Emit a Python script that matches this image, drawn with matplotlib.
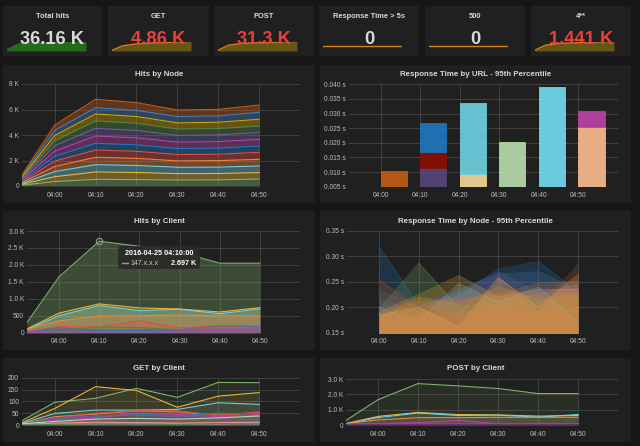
import numpy as np
import matplotlib.pyplot as plt
from matplotlib.patches import Rectangle, FancyBboxPatch

plt.rcParams['font.family'] = ['Liberation Sans', 'DejaVu Sans']

W, H = 640, 446
BG = '#161616'
PANEL = '#202020'
TXT = '#d8d9da'
TICK = '#bdbdbd'
GRID = '#464646'

#---------------- data ----------------#
vecTimes = ["03:52", "04:00", "04:10", "04:20", "04:30", "04:40", "04:50"]
vecTickTimes = ["04:00", "04:10", "04:20", "04:30", "04:40", "04:50"]

# stat row
vecStatTitles = ["Total hits", "GET", "POST", "Response Time > 5s", "500", "4**"]
vecStatValues = ["36.16 K", "4.86 K", "31.3 K", "0", "0", "1.441 K"]
vecStatColors = ["#d8d9da", "#e8403a", "#e8403a", "#d8d9da", "#d8d9da", "#e8403a"]
vecSparkFill = ["#256b1d", "#665518", "#665518", None, None, "#665518"]
vecSparkLine = ["#2a7420", "#d47f1a", "#d47f1a", "#d47f1a", "#d47f1a", "#d47f1a"]
vecSpark = [
    [0.86, 4.78, 6.80, 6.54, 5.96, 6.01, 6.35],
    [0.08, 0.55, 0.75, 0.83, 0.88, 0.95, 1.00],
    [0.08, 0.62, 0.80, 0.85, 0.90, 0.95, 1.00],
    [0, 0, 0, 0, 0, 0, 0],
    [0, 0, 0, 0, 0, 0, 0],
    [0.10, 0.62, 0.80, 0.85, 0.90, 0.95, 1.00],
]

# Hits by Node (stacked), bottom layer first
vecNodeColors = ["#7EB26D", "#EAB839", "#6ED0E0", "#EF843C", "#E24D42", "#1F78C1",
                 "#BA43A9", "#705DA0", "#508642", "#CCA300", "#447EBC", "#C15C17"]
vecNodeHits = np.array([
    [60, 350, 520, 500, 470, 480, 550],
    [70, 380, 580, 560, 500, 500, 500],
    [70, 400, 570, 550, 500, 500, 520],
    [70, 400, 580, 560, 500, 510, 520],
    [70, 420, 570, 550, 500, 500, 550],
    [70, 380, 530, 510, 470, 480, 500],
    [80, 400, 570, 550, 500, 510, 520],
    [70, 430, 600, 580, 530, 530, 540],
    [70, 400, 580, 560, 500, 500, 500],
    [80, 400, 550, 530, 480, 490, 530],
    [70, 400, 490, 480, 500, 500, 550],
    [80, 420, 660, 610, 510, 510, 570],
])

# Response Time by URL (stacked bars)
vecUrlTimes = ["04:00", "04:10", "04:20", "04:30", "04:40", "04:50"]
vecUrlColors = ["#C15C17", "#584477", "#890F02", "#1F78C1", "#F4D598", "#6ED0E0",
                "#B7DBAB", "#70DBED", "#F9BA8F", "#BA43A9"]
vecUrlValues = [
    [0.0103, 0, 0, 0, 0, 0],
    [0, 0.0113, 0, 0, 0, 0],
    [0, 0.0056, 0, 0, 0, 0],
    [0, 0.0100, 0, 0, 0, 0],
    [0, 0, 0.0093, 0, 0, 0],
    [0, 0, 0.0243, 0, 0, 0],
    [0, 0, 0, 0.0204, 0, 0],
    [0, 0, 0, 0, 0.0390, 0],
    [0, 0, 0, 0, 0, 0.0253],
    [0, 0, 0, 0, 0, 0.0055],
]

# Hits by Client
vecClientColors = ["#7EB26D", "#EAB839", "#6ED0E0", "#EF843C", "#E24D42", "#705DA0",
                   "#1F78C1", "#508642", "#BA43A9"]
vecClientHits = [
    [300, 1650, 2697, 2550, 2380, 2050, 2050],
    [110, 580, 850, 730, 700, 610, 740],
    [90, 500, 800, 650, 690, 560, 700],
    [100, 350, 490, 500, 520, 500, 500],
    [30, 180, 170, 350, 140, 200, 190],
    [20, 150, 50, 90, 90, 200, 180],
    [10, 100, 80, 60, 70, 100, 100],
    [10, 60, 170, 150, 90, 110, 80],
    [5, 40, 30, 40, 50, 60, 50],
]
strTipIp = "147.x.x.x"

# Response Time by Node - 95th
vecRtTimes = ["04:00", "04:10", "04:20", "04:30", "04:40", "04:50"]
vecRtColors = ["#1F78C1", "#447EBC", "#7EB26D", "#705DA0", "#6ED0E0", "#BA43A9",
               "#C15C17", "#EAB839", "#E0752D", "#F9BA8F", "#CCA300", "#EF843C"]
vecRtValues = [
    [0.320, 0.205, 0.225, 0.275, 0.290, 0.230],
    [0.215, 0.195, 0.235, 0.265, 0.270, 0.235],
    [0.195, 0.287, 0.200, 0.215, 0.225, 0.245],
    [0.232, 0.205, 0.230, 0.270, 0.230, 0.230],
    [0.200, 0.172, 0.247, 0.210, 0.240, 0.170],
    [0.185, 0.215, 0.220, 0.230, 0.232, 0.240],
    [0.255, 0.200, 0.175, 0.260, 0.195, 0.285],
    [0.190, 0.225, 0.262, 0.220, 0.235, 0.235],
    [0.188, 0.210, 0.215, 0.225, 0.248, 0.250],
    [0.185, 0.200, 0.160, 0.258, 0.200, 0.265],
    [0.180, 0.220, 0.205, 0.240, 0.215, 0.225],
    [0.175, 0.185, 0.190, 0.200, 0.190, 0.200],
]

# GET by Client
vecGetColors = ["#7EB26D", "#EAB839", "#6ED0E0", "#EF843C", "#E24D42", "#1F78C1",
                "#BA43A9", "#705DA0", "#B7DBAB", "#F29191", "#AEA2E0", "#508642"]
vecGet = [
    [18, 96, 113, 155, 117, 180, 179],
    [10, 70, 162, 146, 75, 122, 137],
    [7, 49, 63, 63, 66, 94, 87],
    [4, 35, 46, 59, 56, 42, 52],
    [2, 28, 50, 60, 60, 40, 55],
    [3, 25, 35, 45, 40, 50, 48],
    [1, 22, 30, 50, 45, 35, 45],
    [2, 30, 38, 42, 35, 40, 40],
    [5, 15, 25, 28, 25, 30, 38],
    [1, 8, 12, 10, 8, 10, 12],
    [1, 5, 6, 8, 6, 5, 8],
    [0, 3, 5, 4, 3, 6, 5],
]

# POST by Client
vecPostColors = ["#7EB26D", "#EAB839", "#6ED0E0", "#EF843C", "#BA43A9", "#705DA0",
                 "#1F78C1", "#6D1F62"]
vecPost = [
    [300, 1650, 2700, 2550, 2380, 2050, 2050],
    [100, 560, 820, 680, 660, 580, 620],
    [80, 480, 780, 620, 640, 520, 680],
    [90, 330, 480, 480, 500, 500, 500],
    [20, 100, 150, 300, 80, 80, 80],
    [10, 50, 50, 60, 60, 80, 80],
    [50, 100, 100, 60, 80, 100, 100],
    [5, 10, 10, 10, 10, 10, 10],
]


#---------------- helpers ----------------#
def fnMin(strT):
    h, m = strT.split(":")
    return int(h) * 60 + int(m) - 240

def fnRect(x0, y0, x1, y1):
    return [x0 / W, 1 - y1 / H, (x1 - x0) / W, (y1 - y0) / H]

def fnTimeAxes(fig, rect, ylim, yticks, ylabels):
    ax = fig.add_axes(fnRect(*rect))
    ax.set_facecolor('none')
    ax.set_xlim(-8, 60)
    ax.set_ylim(*ylim)
    ax.set_xticks([fnMin(t) for t in vecTickTimes])
    ax.set_xticklabels(vecTickTimes)
    ax.set_yticks(yticks)
    ax.set_yticklabels(ylabels)
    ax.grid(True, color=GRID, linewidth=0.6)
    ax.set_axisbelow(True)
    for s in ax.spines.values():
        s.set_visible(False)
    ax.tick_params(axis='both', length=0, labelsize=4.8, colors=TICK)
    ax.tick_params(axis='x', pad=4.0)
    ax.tick_params(axis='y', pad=2.2)
    return ax


X = np.array([fnMin(t) for t in vecTimes])

fig = plt.figure(figsize=(W / 100, H / 100), dpi=100)
fig.patch.set_facecolor(BG)

bg = fig.add_axes([0, 0, 1, 1])
bg.set_xlim(0, W)
bg.set_ylim(H, 0)
bg.axis('off')

vecStatX = [(3, 102), (108, 209), (214, 314), (319, 419), (425, 525), (531, 631)]
for x0, x1 in vecStatX:
    bg.add_patch(Rectangle((x0, 6), x1 - x0, 50, color=PANEL, lw=0))
for y0, y1 in [(65, 203), (211, 350), (358, 442)]:
    bg.add_patch(Rectangle((3, y0), 312, y1 - y0, color=PANEL, lw=0))
    bg.add_patch(Rectangle((320, y0), 311, y1 - y0, color=PANEL, lw=0))

#---------------- stat sparklines ----------------#
for i, (x0, x1) in enumerate(vecStatX):
    axS = fig.add_axes(fnRect(x0 + 4, 41.5, x0 + 83, 51))
    axS.axis('off')
    vals = np.array(vecSpark[i], dtype=float)
    axS.set_xlim(X[0], X[-1])
    if vals.max() == 0:
        axS.set_ylim(-1, 1)
    else:
        axS.set_ylim(0, vals.max())
    if vecSparkFill[i] is not None:
        axS.fill_between(X, 0, vals, color=vecSparkFill[i], lw=0)
    axS.plot(X, vals, color=vecSparkLine[i], lw=1.0)

#---------------- Hits by Node ----------------#
ax = fnTimeAxes(fig, (22, 84, 300, 186), (0, 8000), np.arange(0, 8001, 2000),
                ["0", "2 K", "4 K", "6 K", "8 K"])
cum = np.cumsum(vecNodeHits, axis=0)
prev = np.zeros(len(X))
for i in range(len(vecNodeColors)):
    ax.fill_between(X, prev, cum[i], color=vecNodeColors[i], alpha=0.4, lw=0)
    ax.plot(X, cum[i], color=vecNodeColors[i], lw=0.8)
    prev = cum[i]

#---------------- Response Time by URL ----------------#
ax = fnTimeAxes(fig, (349, 84.3, 618, 186.7), (0.005, 0.040), np.arange(0.005, 0.0401, 0.005),
                ["%.3f s" % v for v in np.arange(0.005, 0.0401, 0.005)])
xu = np.array([fnMin(t) for t in vecUrlTimes])
bottom = np.zeros(len(xu))
for i in range(len(vecUrlColors)):
    v = np.array(vecUrlValues[i])
    m = v > 0
    ax.bar(xu[m], v[m], width=6.6, bottom=bottom[m], align='edge',
           color=vecUrlColors[i], alpha=0.92, edgecolor=vecUrlColors[i], lw=0.6)
    bottom += v

#---------------- Hits by Client ----------------#
ax = fnTimeAxes(fig, (27, 231, 300, 332.7), (0, 3000), np.arange(0, 3001, 500),
                ["0", "500", "1.0 K", "1.5 K", "2.0 K", "2.5 K", "3.0 K"])
for i in range(len(vecClientColors)):
    ax.fill_between(X, 0, vecClientHits[i], color=vecClientColors[i], alpha=0.3, lw=0)
for i in range(len(vecClientColors)):
    ax.plot(X, vecClientHits[i], color=vecClientColors[i], lw=0.8)
ax.plot(X[2], vecClientHits[0][2], 'o', mfc='none', mec='#9a9a9a', ms=4.5, mew=0.8)

#---------------- Response Time by Node ----------------#
ax = fnTimeAxes(fig, (347, 231, 618, 332.7), (0.15, 0.35), np.arange(0.15, 0.351, 0.05),
                ["%.2f s" % v for v in np.arange(0.15, 0.351, 0.05)])
xr = np.array([fnMin(t) for t in vecRtTimes])
for i in range(len(vecRtColors)):
    ax.fill_between(xr, 0, vecRtValues[i], color=vecRtColors[i], alpha=0.22, lw=0)
    ax.plot(xr, vecRtValues[i], color=vecRtColors[i], lw=0.5, alpha=0.4)

#---------------- GET by Client ----------------#
ax = fnTimeAxes(fig, (22, 377.7, 300, 425), (0, 200), np.arange(0, 201, 50),
                ["0", "50", "100", "150", "200"])
for i in range(len(vecGetColors)):
    ax.fill_between(X, 0, vecGet[i], color=vecGetColors[i], alpha=0.1, lw=0)
for i in range(len(vecGetColors)):
    ax.plot(X, vecGet[i], color=vecGetColors[i], lw=0.8)

#---------------- POST by Client ----------------#
ax = fnTimeAxes(fig, (346, 379, 618, 425), (0, 3000), np.arange(0, 3001, 1000),
                ["0", "1.0 K", "2.0 K", "3.0 K"])
for i in range(len(vecPostColors)):
    ax.fill_between(X, 0, vecPost[i], color=vecPostColors[i], alpha=0.1, lw=0)
for i in range(len(vecPostColors)):
    ax.plot(X, vecPost[i], color=vecPostColors[i], lw=0.8)

#---------------- texts on top ----------------#
fg = fig.add_axes([0, 0, 1, 1])
fg.set_xlim(0, W)
fg.set_ylim(H, 0)
fg.axis('off')

for i, (x0, x1) in enumerate(vecStatX):
    xc = (x0 + x1) / 2
    fg.text(xc, 17.5, vecStatTitles[i], ha='center', va='baseline', fontsize=5.4,
            fontweight='bold', color=TXT)
    fg.text(xc, 44, vecStatValues[i], ha='center', va='baseline', fontsize=13.2,
            fontweight='bold', color=vecStatColors[i])

for strT, xc, yb in [("Hits by Node", 159, 76.5), ("Response Time by URL - 95th Percentile", 475.5, 76.5),
                     ("Hits by Client", 159, 223), ("Response Time by Node - 95th Percentile", 475.5, 222.8),
                     ("GET by Client", 159, 370), ("POST by Client", 475.5, 370)]:
    fg.text(xc, yb, strT, ha='center', va='baseline', fontsize=5.7, fontweight='bold', color=TXT)

# tooltip
fg.add_patch(FancyBboxPatch((118, 246), 82, 23, boxstyle="round,pad=0,rounding_size=2.5",
                            fc='#2a2a2a', ec='none', alpha=0.93))
fg.text(159, 255, "2016-04-25 %s:00" % vecTimes[2], ha='center', va='baseline',
        fontsize=5.2, fontweight='bold', color='#ffffff')
fg.plot([122, 127.5], [262.5, 262.5], color=vecClientColors[0], lw=1.0)
fg.text(130, 265, strTipIp, ha='left', va='baseline', fontsize=5.0, color='#c8c8c8')
fg.text(196, 265, "%.3f K" % (vecClientHits[0][2] / 1000), ha='right', va='baseline',
        fontsize=5.2, fontweight='bold', color='#ffffff')

fig.savefig("out.png", dpi=100, facecolor=BG)
